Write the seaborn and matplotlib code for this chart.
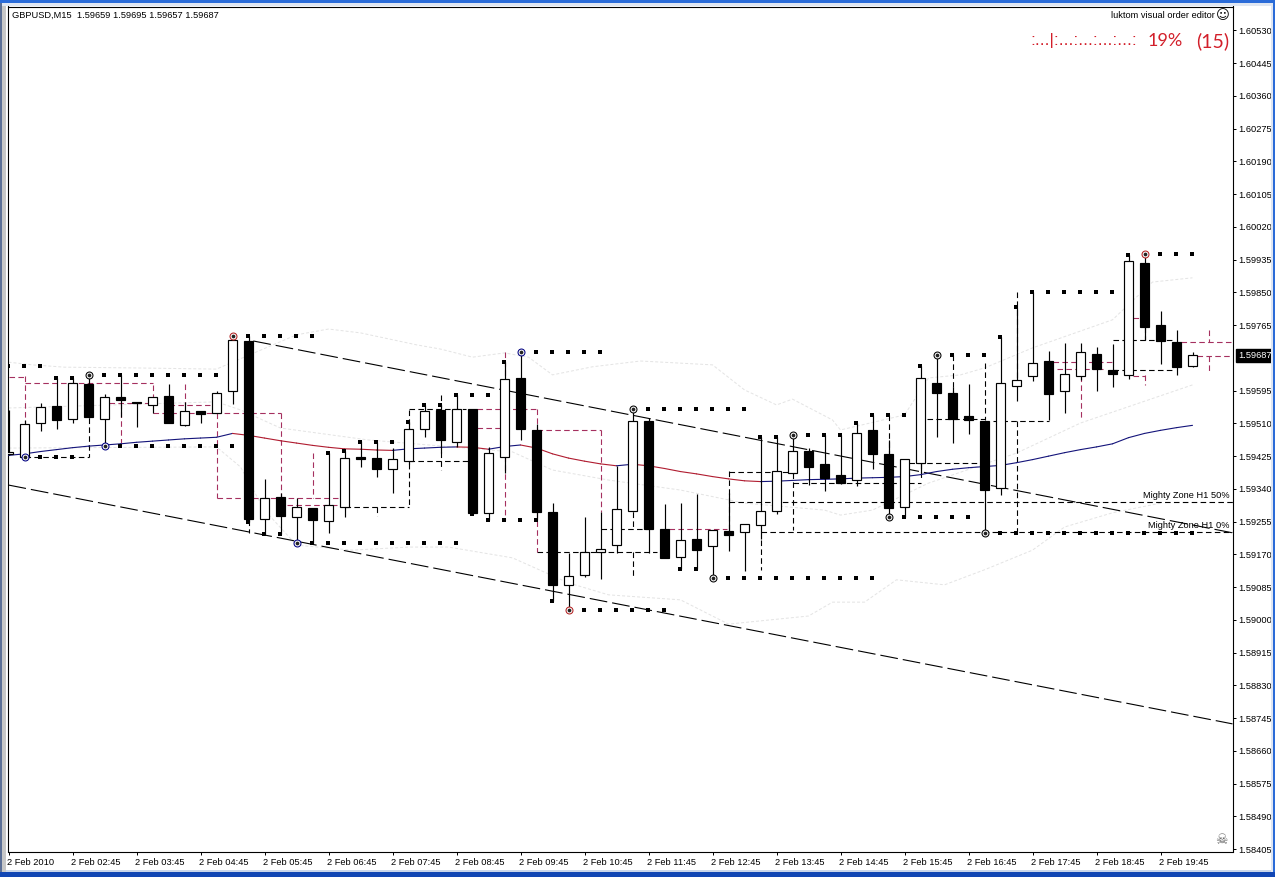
"""GBPUSD M15 candlestick chart with zones, fractal dots and bands (MT4 style)."""
import numpy as np
import pandas as pd
import matplotlib
matplotlib.use('Agg')
import matplotlib.pyplot as plt
from matplotlib.patches import Rectangle
from matplotlib.transforms import ScaledTranslation
import seaborn as sns

# all prices below are in 1e-5 units (points)
opens = [159431, 159422, 159512, 159555, 159521, 159612, 159522, 159578, 159566, 159559,
         159581, 159507, 159541, 159536, 159593, 159725, 159261, 159318, 159266, 159290,
         159256, 159292, 159422, 159420, 159391, 159412, 159496, 159545, 159462, 159547,
         159277, 159424, 159628, 159493, 159280, 159091, 159117, 159175, 159194, 159283,
         159517, 159237, 159164, 159209, 159193, 159230, 159227, 159247, 159283, 159380,
         159438, 159405, 159375, 159362, 159492, 159430, 159294, 159407, 159614, 159588,
         159529, 159516, 159342, 159606, 159632, 159671, 159593, 159632, 159690, 159649,
         159635, 159927, 159766, 159721, 159659]
highs = [159545, 159519, 159562, 159628, 159627, 159636, 159586, 159636, 159566, 159578,
         159612, 159566, 159541, 159595, 159737, 159737, 159365, 159329, 159316, 159290,
         159432, 159439, 159465, 159462, 159445, 159514, 159557, 159557, 159583, 159547,
         159450, 159670, 159696, 159509, 159303, 159174, 159266, 159281, 159400, 159547,
         159524, 159301, 159303, 159327, 159233, 159329, 159248, 159474, 159474, 159479,
         159445, 159479, 159480, 159512, 159532, 159467, 159418, 159659, 159688, 159605,
         159612, 159516, 159735, 159811, 159850, 159697, 159718, 159718, 159708, 159716,
         159947, 159950, 159802, 159753, 159695]
lows = [159428, 159420, 159491, 159496, 159512, 159524, 159451, 159526, 159501, 159538,
        159512, 159503, 159512, 159536, 159560, 159255, 159222, 159222, 159199, 159200,
        159226, 159268, 159396, 159370, 159330, 159405, 159475, 159434, 159450, 159275,
        159259, 159382, 159467, 159259, 159050, 159026, 159111, 159105, 159174, 159280,
        159174, 159161, 159131, 159131, 159108, 159180, 159128, 159209, 159275, 159379,
        159351, 159335, 159353, 159348, 159392, 159268, 159268, 159381, 159475, 159460,
        159483, 159226, 159324, 159569, 159621, 159519, 159538, 159623, 159595, 159605,
        159625, 159727, 159665, 159636, 159657]
closes = [159436, 159508, 159552, 159519, 159614, 159527, 159578, 159571, 159562, 159578,
          159512, 159541, 159535, 159588, 159727, 159262, 159316, 159270, 159292, 159259,
          159297, 159419, 159418, 159392, 159417, 159495, 159541, 159468, 159547, 159278,
          159432, 159625, 159496, 159280, 159091, 159113, 159175, 159185, 159287, 159516,
          159237, 159161, 159207, 159181, 159233, 159221, 159248, 159282, 159386, 159438,
          159398, 159368, 159356, 159484, 159431, 159291, 159417, 159627, 159590, 159522,
          159520, 159338, 159614, 159622, 159666, 159587, 159638, 159695, 159650, 159637,
          159931, 159759, 159725, 159657, 159687]

# moving average, one value per candle
ma = [159427, 159431, 159437, 159442, 159447, 159451, 159454, 159457, 159461, 159464,
      159467, 159470, 159472, 159474, 159484, 159479, 159472, 159465, 159459, 159453,
      159448, 159444, 159443, 159441, 159440, 159444, 159446, 159448, 159449, 159448,
      159443, 159450, 159454, 159446, 159431, 159420, 159412, 159405, 159400, 159404,
      159400, 159393, 159385, 159379, 159372, 159366, 159361, 159359, 159360, 159362,
      159364, 159365, 159366, 159368, 159369, 159370, 159372, 159377, 159385, 159391,
      159395, 159398, 159401, 159408, 159416, 159425, 159434, 159442, 159449, 159457,
      159473, 159484, 159492, 159499, 159505]

# faint bands, read at a few candle positions
upper_x = [0, 1.5, 3.5, 8, 13, 14, 18, 20, 22, 25.5, 27, 29, 31, 32.5, 34, 36.5, 39.5, 44, 46, 48,
           49, 51.5, 52, 56, 57.5, 59.5, 61, 64, 69, 71.5, 74]
upper_y = [159669, 159662, 159656, 159654, 159651, 159669, 159740, 159755, 159745, 159714, 159703,
           159682, 159693, 159682, 159636, 159657, 159672, 159662, 159597, 159558, 159573, 159519,
           159493, 159532, 159628, 159636, 159654, 159706, 159779, 159877, 159888]
inner_x = [0, 13, 14.5, 17, 22.5, 31.5, 34, 37.5, 42, 46, 51, 52, 54, 57.5, 63, 67, 74]
inner_y = [159550, 159566, 159545, 159498, 159467, 159436, 159389, 159363, 159337, 159303, 159285,
           159272, 159285, 159355, 159433, 159511, 159610]
lower_x = [0, 13, 14.5, 16, 18, 21.5, 25, 27.5, 31.5, 35, 37.5, 42, 45, 50, 51.5, 53.5, 55.5, 58.5,
           61, 64, 66, 69, 72]
lower_y = [159446, 159449, 159397, 159285, 159194, 159181, 159189, 159189, 159161, 159096, 159065,
           159052, 158989, 159010, 159046, 159046, 159104, 159091, 159130, 159181, 159241, 159278,
           159303]

# trendlines: candle position and price of both ends
trend_x = [[15.3, 76.5], [0, 76.5]]
trend_y = [[159724, 159226], [159350, 158730]]

# dashed zones: horizontal (from, to, price) and vertical (candle, price, price)
black_h = [(1, 5, 159423), (21, 25, 159293), (25, 28.6, 159547), (25, 29, 159412), (37, 40, 159237),
           (33, 40.5, 159175), (45, 76.5, 159307), (47, 76.5, 159227), (45, 49, 159385), (49, 57, 159356),
           (55.7, 60.7, 159407), (57.4, 61, 159521), (61.5, 65, 159516), (69, 72.8, 159727), (69, 72.8, 159649)]
black_v = [(5, 159524, 159423), (25, 159545, 159293), (27, 159584, 159553), (27, 159436, 159389),
           (15, 159259, 159226), (23, 159293, 159270), (39, 159280, 159239), (39, 159176, 159109),
           (45, 159387, 159233), (49, 159381, 159233), (47, 159207, 159130), (55, 159532, 159433),
           (57, 159407, 159363), (59, 159688, 159589), (61, 159667, 159519), (63, 159851, 159615),
           (63, 159516, 159226), (71, 159760, 159727)]
red_h = [(0, 1, 159631), (1, 9, 159614), (6.3, 8.8, 159563), (10, 12.6, 159558), (9, 17, 159537),
         (13, 20.6, 159316), (17.4, 20.6, 159298), (29.3, 33, 159547), (29.3, 30.7, 159498), (33, 37, 159493),
         (41.3, 44.9, 159236), (65.3, 69, 159670), (65.5, 68.4, 159650), (70.3, 71, 159784), (70.3, 71, 159634),
         (73.3, 76.5, 159721), (74.3, 76.5, 159684)]
red_v = [(1, 159633, 159509), (9, 159610, 159579), (7, 159563, 159459), (11, 159612, 159558),
         (13, 159537, 159316), (17, 159537, 159316), (19, 159433, 159316), (31, 159695, 159623),
         (31, 159425, 159259), (33, 159547, 159493), (33, 159280, 159176), (37, 159493, 159280),
         (67, 159633, 159524), (71, 159635, 159610), (75, 159753, 159721), (75, 159685, 159643)]

# fractal dot rows (first candle, last candle, price)
dot_rows = [(0, 2, 159658), (6, 13, 159636), (15, 19, 159737), (7, 14, 159451), (2, 4, 159423),
            (19, 28, 159199), (22, 24, 159462), (30, 33, 159259), (28, 30, 159583), (33, 37, 159696),
            (40, 46, 159547), (36, 41, 159026), (45, 54, 159108), (50, 52, 159479), (54, 56, 159532),
            (56, 60, 159268), (59, 61, 159688), (64, 69, 159850), (62, 74, 159226), (72, 74, 159950),
            (3, 4, 159628), (20, 20, 159432), (21, 21, 159439), (25, 25, 159514), (26, 27, 159557),
            (31, 31, 159670), (47, 48, 159474), (53, 53, 159512), (57, 57, 159659), (62, 62, 159735),
            (63, 63, 159811), (70, 70, 159947), (15, 15, 159255), (16, 17, 159222), (29, 29, 159275),
            (34, 34, 159050), (42, 43, 159131)]

# circled pivots: candle, price, ring colour
pivots = [(1, 159423, 'navy'), (5, 159636, 'black'), (6, 159451, 'navy'), (14, 159737, 'firebrick'),
          (18, 159199, 'navy'), (32, 159696, 'navy'), (35, 159026, 'firebrick'), (39, 159547, 'black'),
          (44, 159108, 'black'), (49, 159479, 'black'), (55, 159268, 'black'), (58, 159688, 'black'),
          (61, 159226, 'black'), (71, 159950, 'firebrick')]

price_ticks = [160530, 160445, 160360, 160275, 160190, 160105, 160020, 159935, 159850, 159765, 159595,
               159510, 159425, 159340, 159255, 159170, 159085, 159000, 158915, 158830, 158745, 158660,
               158575, 158490, 158405]
time_ticks = ['2 Feb 2010', '2 Feb 02:45', '2 Feb 03:45', '2 Feb 04:45', '2 Feb 05:45', '2 Feb 06:45',
              '2 Feb 07:45', '2 Feb 08:45', '2 Feb 09:45', '2 Feb 10:45', '2 Feb 11:45', '2 Feb 12:45',
              '2 Feb 13:45', '2 Feb 14:45', '2 Feb 15:45', '2 Feb 16:45', '2 Feb 17:45', '2 Feb 18:45',
              '2 Feb 19:45']
last_price = 159687

PX = 0.72  # one screen pixel in points at dpi 100
DASH_RED = '#a5305f'
TEXT_RED = '#d21f2a'
FONT = ['Liberation Sans', 'DejaVu Sans']
SIZE = 6.7


def dots_frame():
    rows = []
    for first, last, price in dot_rows:
        for i in range(first, last + 1):
            rows.append((i - 0.06, price / 1e5))
    return pd.DataFrame(rows, columns=['x', 'price'])


def draw_zones(ax, horiz, vert, color):
    style = (0, (5, 3))
    ax.hlines([p / 1e5 for _, _, p in horiz], [a for a, _, _ in horiz], [b for _, b, _ in horiz],
              colors=color, linewidth=0.8, linestyles=[style], zorder=2)
    ax.vlines([c for c, _, _ in vert], [p / 1e5 for _, p, _ in vert], [p / 1e5 for _, _, p in vert],
              colors=color, linewidth=0.8, linestyles=[style], zorder=2)


def draw_candles(ax):
    df = pd.DataFrame({'open': opens, 'high': highs, 'low': lows, 'close': closes}) / 1e5
    df['x'] = np.arange(len(df))
    ax.vlines(df['x'], df['low'], df['high'], colors='black', linewidth=0.85, zorder=4)
    top = df[['open', 'close']].max(axis=1)
    bottom = df[['open', 'close']].min(axis=1)
    faces = ['white' if c >= o else 'black' for o, c in zip(df['open'], df['close'])]
    ax.bar(df['x'], top - bottom, bottom=bottom, width=0.62, color=faces, edgecolor='black',
           linewidth=0.85, zorder=5)


def draw_ma(ax):
    for i in range(len(ma) - 1):
        color = '#14147a' if ma[i + 1] >= ma[i] else '#b01c30'
        sns.lineplot(x=[i, i + 1], y=[ma[i] / 1e5, ma[i + 1] / 1e5], color=color, linewidth=0.8,
                     errorbar=None, ax=ax, zorder=3)


def draw_window(fig):
    w, h = 1275, 877
    # x, y from bottom-left, width, height
    bands = [(0, 0, w, 5, '#1146b4'), (0, 5, w, 2, '#c9d6ea'), (0, h - 3, w, 3, '#2a6bd8'),
             (0, h - 6, w, 3, '#dfe6f2'), (0, 5, 2, h - 8, '#5b6f96'), (2, 5, 4, h - 11, '#c7c7c7'),
             (w - 2, 5, 2, h - 8, '#2a6bd8'), (w - 4, 5, 2, h - 8, '#dfe6f2')]
    for x, y, bw, bh, color in bands:
        fig.add_artist(Rectangle((x / w, y / h), bw / w, bh / h, transform=fig.transFigure,
                                 facecolor=color, edgecolor='none'))


def main():
    sns.set_theme(style='white')
    plt.rcParams['font.family'] = FONT
    fig = plt.figure(figsize=(12.75, 8.77), dpi=100, facecolor='white')
    ax = fig.add_axes([7.5 / 1275, 25.5 / 877, 1225 / 1275, 845 / 877])
    ax.set_xlim(-0.0625, 76.5)
    ax.set_ylim(1.583987, 1.605923)

    # faint bands first, everything else sits above them
    for xs, ys in [(upper_x, upper_y), (inner_x, inner_y), (lower_x, lower_y)]:
        sns.lineplot(x=xs, y=[v / 1e5 for v in ys], color='#e4e4e4', linewidth=PX,
                     linestyle=(0, (3, 2)), errorbar=None, ax=ax, zorder=1)
    for xs, ys in zip(trend_x, trend_y):
        sns.lineplot(x=xs, y=[v / 1e5 for v in ys], color='black', linewidth=0.8,
                     linestyle=(0, (16, 4.5)), errorbar=None, ax=ax, zorder=2)
    draw_zones(ax, black_h, black_v, 'black')
    draw_zones(ax, red_h, red_v, DASH_RED)
    draw_ma(ax)
    draw_candles(ax)

    sns.scatterplot(data=dots_frame(), x='x', y='price', marker='s', s=6.5, color='black', linewidth=0,
                    ax=ax, zorder=6)
    for i, price, color in pivots:
        ax.plot(i, price / 1e5, 'o', ms=5, mfc='white', mec=color, mew=0.75, zorder=7)
        ax.plot(i, price / 1e5, 'o', ms=2.7, mfc='#222222', mec='none', zorder=8)

    ax.set_xlabel('')
    ax.set_ylabel('')
    for side in ax.spines:
        ax.spines[side].set_color('black')
        ax.spines[side].set_linewidth(0.8)
    ax.yaxis.tick_right()
    ax.set_yticks([p / 1e5 for p in price_ticks])
    ax.set_yticklabels(['%.5f' % (p / 1e5) for p in price_ticks], fontsize=SIZE, color='black')
    ax.set_xticks(range(0, 4 * len(time_ticks), 4))
    ax.set_xticklabels(time_ticks, fontsize=SIZE, color='black', ha='left')
    ax.tick_params(axis='y', which='major', length=2.2, width=PX, pad=1.8, color='black', right=True)
    ax.tick_params(axis='x', which='major', length=2.5, width=PX, pad=2.5, color='black', bottom=True)
    shift = ScaledTranslation(-1.5 / 100, 0, fig.dpi_scale_trans)
    for label in ax.get_xticklabels():
        label.set_transform(label.get_transform() + shift)

    ytrans = ax.get_yaxis_transform()
    ax.text(1.0045, last_price / 1e5, '%.5f' % (last_price / 1e5), transform=ytrans, fontsize=SIZE,
            color='white', va='center', ha='left', zorder=10,
            bbox=dict(facecolor='black', edgecolor='black', pad=1.4), clip_on=False)

    ax.text(4.5 / 1225, 0.9895, 'GBPUSD,M15  1.59659 1.59695 1.59657 1.59687', transform=ax.transAxes,
            fontsize=SIZE, va='center', ha='left', color='black')
    ax.text(1207.5 / 1225, 0.9895, 'luktom visual order editor', transform=ax.transAxes, fontsize=SIZE,
            va='center', ha='right', color='black')
    ax.text(0.99755, 0.9895, '\u263a', transform=ax.transAxes, fontsize=9.5,
            va='center', ha='right', color='black', family=['DejaVu Sans'])
    ax.text(1022.5 / 1225, 0.9595, ':...|:...:...:...:...:', transform=ax.transAxes, fontsize=12.5,
            va='center', ha='left', color=TEXT_RED)
    ax.text(1140.5 / 1225, 0.9595, '19%', transform=ax.transAxes, fontsize=13,
            va='center', ha='left', color=TEXT_RED, family=['Lato', 'DejaVu Sans'])
    ax.text(0.99755, 0.9595, '(15)', transform=ax.transAxes, fontsize=14,
            va='center', ha='right', color=TEXT_RED, family=['Lato', 'DejaVu Sans'])

    ax.text(0.99755, 1.59322, 'Mighty Zone H1 50%', transform=ytrans, fontsize=SIZE,
            va='center', ha='right', color='black')
    ax.text(0.99755, 1.59244, 'Mighty Zone H1 0%', transform=ytrans, fontsize=SIZE,
            va='center', ha='right', color='black')
    ax.text(0.9906, 0.0135, '\u2620', transform=ax.transAxes, fontsize=10, va='center', ha='center',
            color='#666666', family=['DejaVu Sans'])

    draw_window(fig)
    fig.savefig('out.png', dpi=100)
    plt.close(fig)


if __name__ == '__main__':
    main()
